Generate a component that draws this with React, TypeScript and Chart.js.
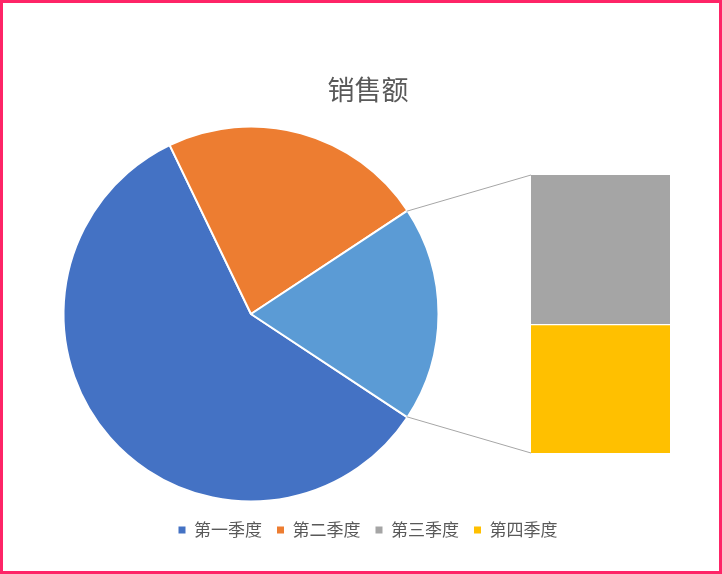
import React, { useEffect, useRef } from 'react';
import Chart from 'chart.js/auto';

// quarterly sales; the last two quarters are split off into the bar on the right
const quarters = ['第一季度', '第二季度', '第三季度', '第四季度'];
const sales = [8.2, 3.2, 1.4, 1.2];
const quarterColors = ['#4472C4', '#ED7D31', '#A5A5A5', '#FFC000'];
const otherLabel = '其他';
const otherColor = '#5B9BD5';
const splitAt = 2;
const chartTitle = '销售额';

const FONT = '"Noto Sans CJK SC", "Microsoft YaHei", sans-serif';
const TEXT = '#595959';
const PIE_BOX = { left: 51, top: 114, size: 400 };

const App: React.FC = () => {
  const pieRef = useRef<HTMLCanvasElement>(null);
  const barRef = useRef<HTMLCanvasElement>(null);

  useEffect(() => {
    document.body.style.margin = '0';
    if (!pieRef.current || !barRef.current) return;

    const mainValues = sales.slice(0, splitAt);
    const restValues = sales.slice(splitAt);
    const restTotal = restValues.reduce((a, b) => a + b, 0);
    const total = sales.reduce((a, b) => a + b, 0);
    const otherDeg = (restTotal / total) * 360;

    // main pie, the "other" slice centred on 3 o'clock
    const pie = new Chart(pieRef.current, {
      type: 'pie',
      data: {
        labels: [...quarters.slice(0, splitAt), otherLabel],
        datasets: [
          {
            data: [...mainValues, restTotal],
            backgroundColor: [...quarterColors.slice(0, splitAt), otherColor],
            borderColor: '#ffffff',
            borderWidth: 2,
            hoverOffset: 0,
            offset: 0
          }
        ]
      },
      options: {
        animation: false,
        responsive: true,
        maintainAspectRatio: false,
        radius: 187.5,
        rotation: 90 + otherDeg / 2,
        layout: { padding: 0 },
        events: [],
        plugins: {
          legend: { display: false },
          title: { display: false },
          tooltip: { enabled: false }
        }
      } as any
    });

    // lines from the "other" slice to the bar corners
    const connectors = {
      id: 'connectors',
      afterDraw(chart: any) {
        const arc: any = pie.getDatasetMeta(0).data[splitAt];
        const bar: any = chart.getDatasetMeta(0).data[0];
        if (!arc || !bar) return;
        const { x, y, startAngle, endAngle, outerRadius } = arc.getProps(
          ['x', 'y', 'startAngle', 'endAngle', 'outerRadius'],
          true
        );
        const r = outerRadius - 1;
        const left = bar.x - bar.width / 2;
        const yScale = chart.scales.y;
        const top = yScale.getPixelForValue(0);
        const bottom = yScale.getPixelForValue(restTotal);
        const ctx = chart.ctx;
        ctx.save();
        ctx.strokeStyle = '#A6A6A6';
        ctx.lineWidth = 1;
        ctx.beginPath();
        ctx.moveTo(PIE_BOX.left + x + r * Math.cos(startAngle), PIE_BOX.top + y + r * Math.sin(startAngle));
        ctx.lineTo(left, top);
        ctx.moveTo(PIE_BOX.left + x + r * Math.cos(endAngle), PIE_BOX.top + y + r * Math.sin(endAngle));
        ctx.lineTo(left, bottom);
        ctx.stroke();
        ctx.restore();
      }
    };

    const bar = new Chart(barRef.current, {
      type: 'bar',
      data: {
        labels: [otherLabel],
        datasets: restValues.map((v, i) => ({
          label: quarters[splitAt + i],
          data: [v],
          backgroundColor: quarterColors[splitAt + i],
          borderColor: '#ffffff',
          borderWidth: { top: i > 0 ? 1 : 0, bottom: i < restValues.length - 1 ? 1 : 0, left: 0, right: 0 },
          borderSkipped: false,
          barPercentage: 1,
          categoryPercentage: 1
        }))
      },
      options: {
        animation: false,
        responsive: true,
        maintainAspectRatio: false,
        events: [],
        layout: { padding: { left: 66, right: 52, top: 0, bottom: 25.5 } },
        scales: {
          x: {
            stacked: true,
            grid: { display: false },
            border: { display: false },
            ticks: { display: false },
            afterFit: (s: any) => {
              s.height = 53.5;
            }
          },
          y: {
            stacked: true,
            reverse: true,
            min: 0,
            max: restTotal,
            grid: { display: false },
            border: { display: false },
            ticks: { display: false },
            afterFit: (s: any) => {
              s.width = 465;
            }
          }
        },
        plugins: {
          tooltip: { enabled: false },
          title: {
            display: true,
            text: chartTitle,
            color: TEXT,
            font: { family: FONT, size: 27, weight: 'normal' },
            padding: { top: 73.8, bottom: 68.8 }
          },
          legend: {
            position: 'bottom',
            labels: {
              color: TEXT,
              font: { family: FONT, size: 17 },
              boxWidth: 7,
              boxHeight: 7,
              padding: 15,
              generateLabels: () =>
                quarters.map((q, i) => ({
                  text: q,
                  fillStyle: quarterColors[i],
                  strokeStyle: quarterColors[i],
                  lineWidth: 0,
                  hidden: false,
                  fontColor: TEXT
                }))
            }
          }
        }
      } as any,
      plugins: [connectors]
    });

    return () => {
      bar.destroy();
      pie.destroy();
    };
  }, []);

  return (
    <div style={{ position: 'relative', width: 722, height: 574, background: '#ffffff' }}>
      <div
        style={{
          position: 'absolute',
          left: PIE_BOX.left,
          top: PIE_BOX.top,
          width: PIE_BOX.size,
          height: PIE_BOX.size
        }}
      >
        <canvas ref={pieRef} />
      </div>
      <div style={{ position: 'absolute', left: 0, top: 0, width: 722, height: 574 }}>
        <canvas ref={barRef} />
      </div>
      <div
        style={{
          position: 'absolute',
          inset: 0,
          border: '3px solid #FE2467',
          boxSizing: 'border-box',
          pointerEvents: 'none'
        }}
      />
    </div>
  );
};

export default App;
